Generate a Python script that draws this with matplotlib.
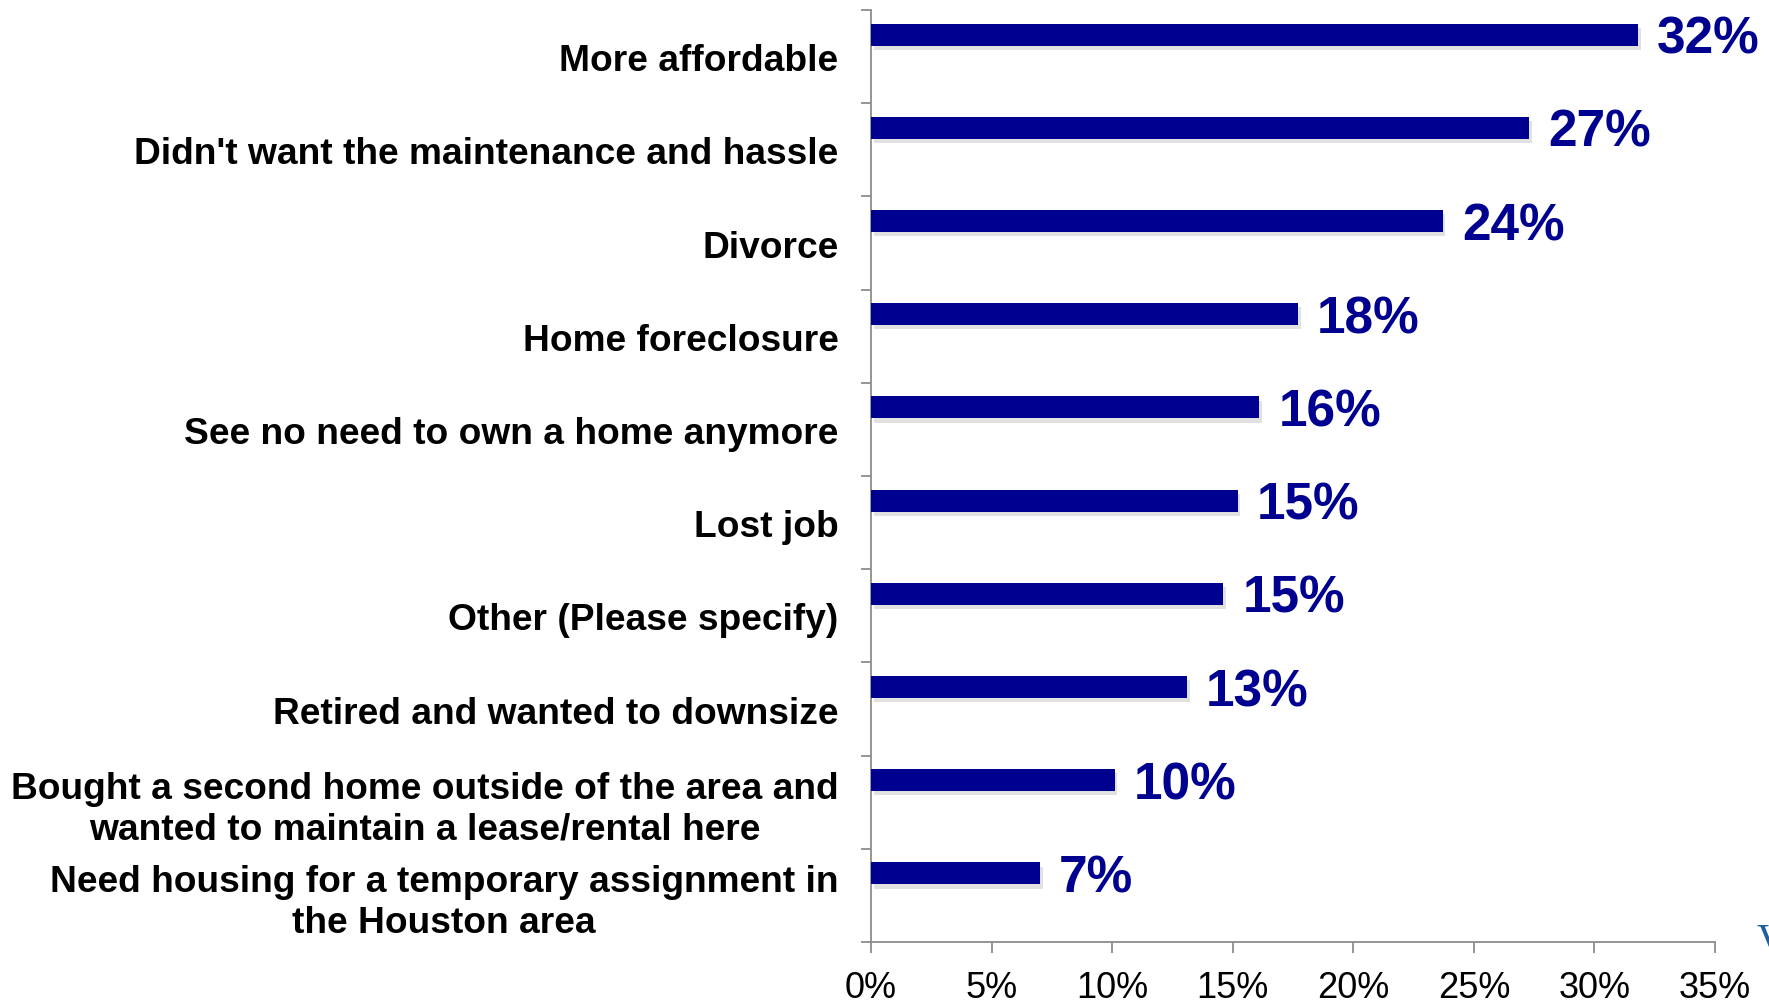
import matplotlib.pyplot as plt
import matplotlib.patheffects as pe

# reasons for renting, share of respondents (%)
reasons = [
    "More affordable",
    "Didn't want the maintenance and hassle",
    "Divorce",
    "Home foreclosure",
    "See no need to own a home anymore",
    "Lost job",
    "Other (Please specify)",
    "Retired and wanted to downsize",
    "Bought a second home outside of the area and\nwanted to maintain a lease/rental here",
    "Need housing for a temporary assignment in\nthe Houston area",
]
values = [31.8, 27.3, 23.7, 17.7, 16.1, 15.2, 14.6, 13.1, 10.1, 7.0]
value_labels = ["32%", "27%", "24%", "18%", "16%", "15%", "15%", "13%", "10%", "7%"]
x_ticks = [0, 5, 10, 15, 20, 25, 30, 35]
x_ticklabels = ["0%", "5%", "10%", "15%", "20%", "25%", "30%", "35%"]

navy = "#000090"
grey = "#8c8c8c"
plt.rcParams['font.family'] = ['Liberation Sans', 'DejaVu Sans']

fig = plt.figure(figsize=(17.69, 10.03), dpi=100)
ax = fig.add_axes([0.4924, 0.0598, 0.9695 - 0.4924, 0.989 - 0.0598])

ypos = [i - 0.236 for i in range(len(values))]
bars = ax.barh(ypos, values, height=0.235, color=navy, zorder=3)
for b in bars:
    b.set_path_effects([pe.SimplePatchShadow(offset=(2, -3), shadow_rgbFace='#aaaaaa', alpha=0.35), pe.Normal()])

for y, v, lab in zip(ypos, values, value_labels):
    ax.text(v + 0.8, y + 0.05, lab, color=navy, fontsize=37, fontweight='bold',
            ha='left', va='center', zorder=4)

ax.set_xlim(0, 35)
ax.set_ylim(len(values) - 0.5, -0.5)

# category labels between the y boundary ticks
ax.set_yticks(range(len(reasons)))
ax.set_yticklabels(reasons, fontsize=26.7, fontweight='bold', multialignment='center')
ax.tick_params(axis='y', length=0, pad=23.5)
ax.set_yticks([i - 0.5 for i in range(len(reasons) + 1)], minor=True)
ax.tick_params(axis='y', which='minor', length=7, width=1.3, color=grey, direction='out')

ax.set_xticks(x_ticks)
ax.set_xticklabels(x_ticklabels, fontsize=26)
ax.tick_params(axis='x', length=8, width=1.3, color=grey, direction='out', pad=12)

for side in ['top', 'right']:
    ax.spines[side].set_visible(False)
for side in ['left', 'bottom']:
    ax.spines[side].set_color(grey)
    ax.spines[side].set_linewidth(1.3)

# cut-off logo letter in the corner
fig.text(1756 / 1769, 1 - 942 / 1003, "V", family='Liberation Serif', fontsize=30,
         color='#1f5f9f', ha='left', va='center')

fig.savefig("out.png", dpi=100)
